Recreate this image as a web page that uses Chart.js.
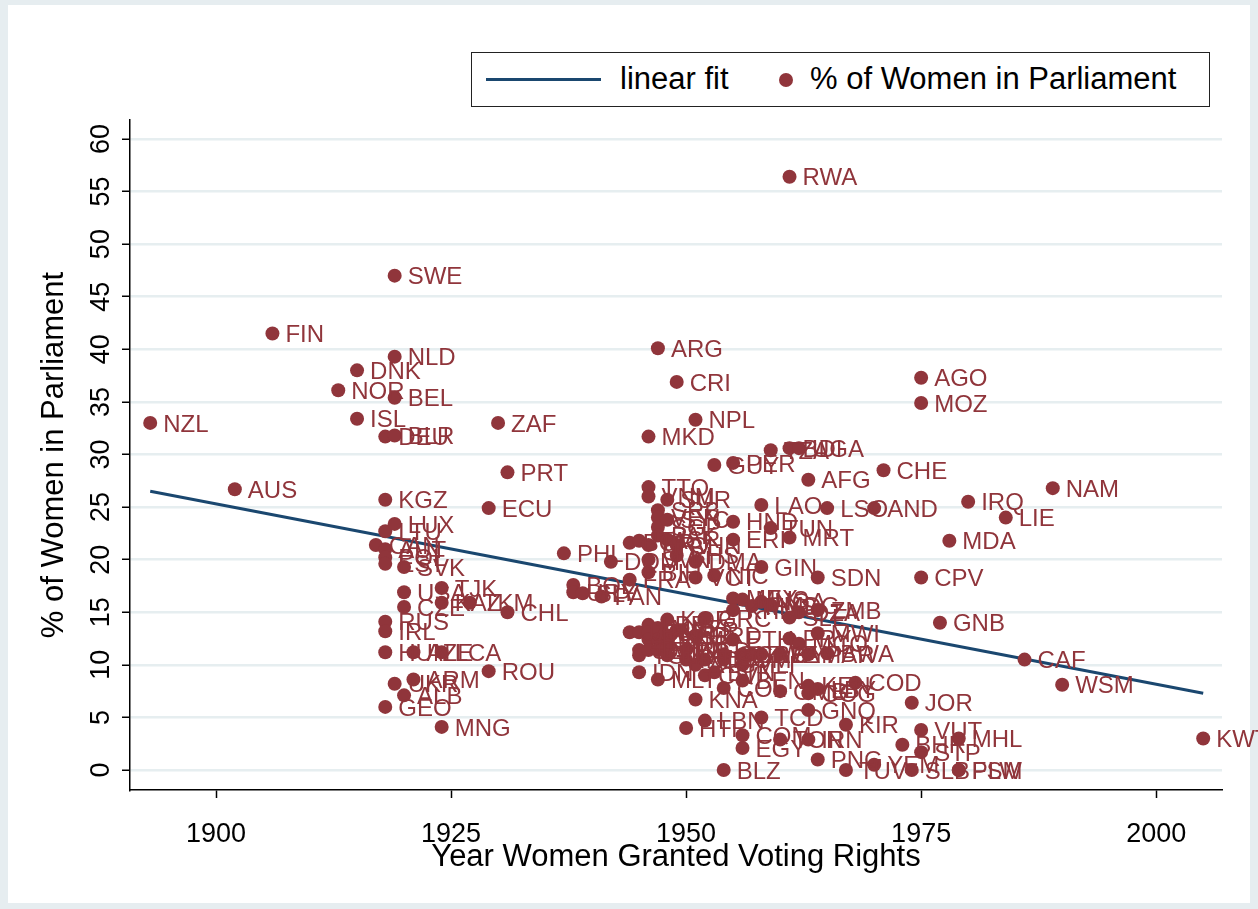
<!DOCTYPE html>
<html><head><meta charset="utf-8">
<script src="https://cdn.jsdelivr.net/npm/chart.js@4.4.0/dist/chart.umd.min.js"></script>
<style>
html,body{margin:0;padding:0;background:#e6edf0;}
#wrap{position:relative;width:1258px;height:909px;overflow:hidden;}
#inner{position:absolute;left:8px;top:5px;width:1242px;height:898px;background:#fff;}
canvas{position:absolute;left:0;top:0;}
#legend{position:absolute;left:471px;top:52px;width:737px;height:53px;border:1.5px solid #222;background:#fff;font-family:"Liberation Sans",Arial,sans-serif;font-size:31px;color:#000;}
#legend .ln{position:absolute;left:14px;top:25px;width:115px;height:3px;background:#1a476f;}
#legend .t1{position:absolute;left:148px;top:8px;}
#legend .mk{position:absolute;left:307px;top:20px;width:14px;height:14px;border-radius:50%;background:#90353b;}
#legend .t2{position:absolute;left:338px;top:8px;}
</style></head>
<body>
<div id="wrap">
<div id="inner"></div>
<canvas id="c" width="1258" height="909"></canvas>
<div id="legend"><div class="ln"></div><span class="t1">linear fit</span><div class="mk"></div><span class="t2">% of Women in Parliament</span></div>
</div>
<script>
const countries = [
'NZL','AUS','FIN','NOR','DNK','ISL','CAN','DEU','KGZ','LTU','AUT','POL','EST','RUS','IRL','HUN','GEO','SWE','NLD','BEL','BLR','LUX','UKR','SVK','USA','CZE','ALB','AZE','ARM','LCA','MNG','TJK','KAZ','TKM','ROU','ECU','ZAF','PRT','CHL','PHL','BOL','URY','SLV','PAN','DOM',
'FRA','BGR','JAM',
'ITA','JPN','SEN','TGO','IDN',
'MKD','TTO','VNM','HRV','SVN','BIH','LBR','CMR','PRK','DJI',
'ARG','SRB','VEN','SGP','PAK','MNE','GTM','MMR','MLT',
'SUR','SYC','ISR','KOR','NER','BRB','LKA',
'CRI','CHN','BHS','SYR',
'IND','BGD','HTI',
'NPL','DMA','VCT','GRD','ATG','KNA',
'GRC','THA','CIV','LBN',
'GUY','NIC','BTN',
'BLZ','COL','GHA','SOM',
'PER','HND','ERI','MEX','KHM','ETH',
'COM','EGY','MUS','GAB','BEN','MLI',
'MYS','ZWE',
'LAO','GIN','NGA','BFA','TCD',
'TUN','MDG','TZA',
'TON','CYP','GMB',
'RWA','MRT','SLE','PRY','BDI',
'UGA','DZA','MCO',
'AFG','IRN','KEN','MAR','COG','GNQ',
'SDN','PNG','ZMB','LBY','MWI',
'LSO','BWA',
'KIR','TUV',
'COD',
'YEM','AND',
'CHE','BHR','JOR','SLB',
'AGO','MOZ','CPV','VUT','STP',
'GNB','MDA','MHL','FSM','PLW','IRQ','LIE','CAF','NAM','WSM','KWT'];
const years = [
1893,1902,1906,1913,1915,1915,1917,1918,1918,1918,1918,1918,1918,1918,1918,1918,1918,1919,1919,1919,1919,1919,1919,1920,1920,1920,1920,1921,1921,1924,1924,1924,1924,1927,1929,1929,1930,1931,1931,1937,1938,1938,1939,1941,1942,
1944,1944,1944,
1945,1945,1945,1945,1945,
1946,1946,1946,1946,1946,1946,1946,1946,1946,1946,
1947,1947,1947,1947,1947,1947,1947,1947,1947,
1948,1948,1948,1948,1948,1948,1948,
1949,1949,1949,1949,
1950,1950,1950,
1951,1951,1951,1951,1951,1951,
1952,1952,1952,1952,
1953,1953,1953,
1954,1954,1954,1954,
1955,1955,1955,1955,1955,1955,
1956,1956,1956,1956,1956,1956,
1957,1957,
1958,1958,1958,1958,1958,
1959,1959,1959,
1960,1960,1960,
1961,1961,1961,1961,1961,
1962,1962,1962,
1963,1963,1963,1963,1963,1963,
1964,1964,1964,1964,1964,
1965,1965,
1967,1967,
1968,
1970,1970,
1971,1973,1974,1974,
1975,1975,1975,1975,1975,
1977,1978,1979,1979,1979,1980,1984,1986,1989,1990,2005];
const pctWomen = [
33.0,26.7,41.5,36.1,38.0,33.4,21.4,31.7,25.7,22.7,21.0,20.2,19.6,14.1,13.2,11.2,6.0,47.0,39.3,35.4,31.8,23.4,8.2,19.3,16.9,15.5,7.1,11.2,8.6,11.2,4.1,17.3,15.9,15.9,9.4,24.9,33.0,28.3,15.0,20.6,17.6,16.9,16.8,16.5,19.8,
18.1,21.6,13.1,
21.8,13.1,11.4,10.9,9.3,
31.7,26.9,26.0,21.4,20.0,18.8,13.8,13.1,12.4,11.4,
40.1,24.7,24.0,23.1,22.3,13.5,12.4,11.4,8.6,
25.7,23.8,21.9,14.3,12.8,11.9,10.9,
36.9,21.4,20.4,13.3,
10.5,11.4,4.0,
33.3,19.8,18.3,12.8,10.0,6.7,
14.4,10.5,9.0,4.7,
29.0,18.5,9.3,
0.0,7.8,11.0,10.5,
29.2,23.6,21.9,16.3,15.2,12.4,
3.3,2.1,16.2,11.0,8.5,10.0,
15.6,11.0,
25.2,19.3,16.0,11.0,5.0,
23.0,15.7,30.4,
2.9,11.0,7.5,
56.4,22.1,14.5,12.5,30.6,
30.6,15.0,12.0,
27.6,2.9,8.0,11.0,7.3,5.7,
18.3,1.0,15.2,7.7,13.0,
24.9,11.1,
4.3,0.0,
8.3,
0.5,24.9,
28.5,2.4,6.4,0.0,
37.3,34.9,18.3,3.8,1.7,
14.0,21.8,3.0,0.0,0.0,25.5,24.0,10.5,26.8,8.1,3.0];
const fitYears = [1893, 2005];
const fitValues = [26.5, 7.3];
const yTickValues = [0,5,10,15,20,25,30,35,40,45,50,55,60];
const xTickValues = [1900,1925,1950,1975,2000];

const FONT = '"Liberation Sans", Arial, sans-serif';
const MAROON = '#90353b';

const labelPlugin = {
  id:'mlabels',
  afterDatasetsDraw(chart){
    const meta = chart.getDatasetMeta(1);
    const ctx = chart.ctx;
    ctx.save();
    ctx.font = '24px ' + FONT;
    ctx.fillStyle = MAROON;
    ctx.textBaseline = 'middle';
    ctx.textAlign = 'left';
    meta.data.forEach((pt,i)=>{
      ctx.fillText(countries[i], pt.x + 13, pt.y + 2);
    });
    ctx.restore();
  }
};

new Chart(document.getElementById('c'), {
  type:'scatter',
  data:{datasets:[
    {label:'linear fit', type:'line', data: fitYears.map((x,i)=>({x:x,y:fitValues[i]})), borderColor:'#1a476f', borderWidth:3, pointRadius:0, fill:false, order:2},
    {label:'% of Women in Parliament', data: years.map((x,i)=>({x:x,y:pctWomen[i]})), backgroundColor:MAROON, borderColor:MAROON, borderWidth:0, pointRadius:7, pointHoverRadius:7, order:1}
  ]},
  options:{
    responsive:false, animation:false, devicePixelRatio:1,
    layout:{padding:{left:0,top:120,right:36,bottom:0}},
    plugins:{legend:{display:false}, tooltip:{enabled:false}},
    scales:{
      x:{type:'linear', min:1890.85, max:2007.0,
        afterBuildTicks:s=>{s.ticks = xTickValues.map(v=>({value:v}));},
        afterFit:s=>{s.height = 119;},
        grid:{drawOnChartArea:false, drawTicks:true, tickLength:8, tickColor:'#000', tickWidth:1.5},
        border:{display:true, color:'#000', width:1.5},
        ticks:{font:{family:FONT,size:27}, color:'#000', padding:20, maxRotation:0, minRotation:0, autoSkip:false, callback:v=>String(v)},
        title:{display:true, text:'Year Women Granted Voting Rights', font:{family:FONT,size:31}, color:'#000', padding:{top:0,bottom:33}}
      },
      y:{type:'linear', min:-1.9, max:61.8,
        afterBuildTicks:s=>{s.ticks = yTickValues.map(v=>({value:v}));},
        afterFit:s=>{s.width = 130;},
        grid:{color:'#e6eef0', lineWidth:2.5, drawTicks:true, tickLength:8, tickColor:'#000', tickWidth:1.5},
        border:{display:true, color:'#000', width:1.5},
        ticks:{font:{family:FONT,size:27}, color:'#000', padding:5, minRotation:90, maxRotation:90, crossAlign:'center', autoSkip:false, callback:v=>String(v)},
        title:{display:true, text:'% of Women in Parliament', font:{family:FONT,size:31}, color:'#000', padding:{top:36,bottom:0}}
      }
    }
  },
  plugins:[labelPlugin]
});
</script>
</body></html>
